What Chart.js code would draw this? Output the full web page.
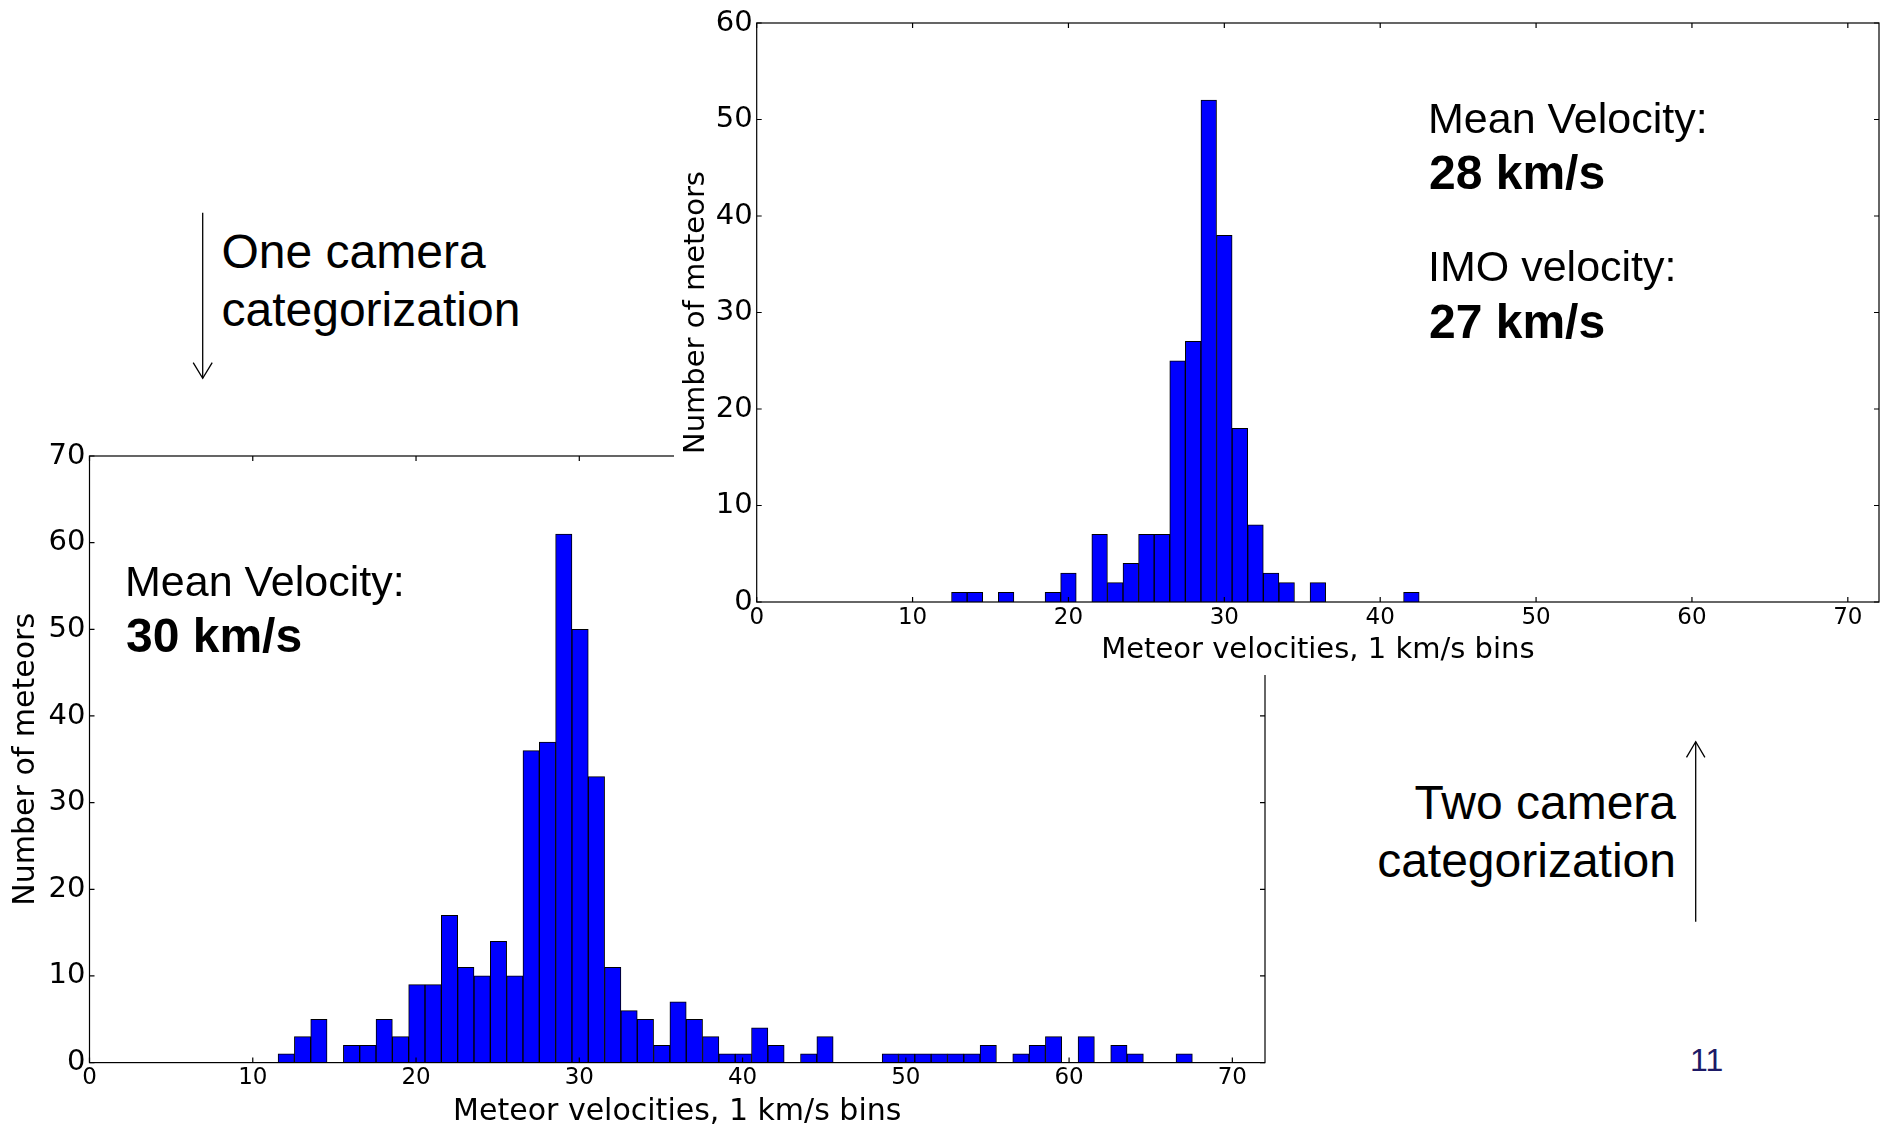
<!DOCTYPE html>
<html>
<head>
<meta charset="utf-8">
<title>Meteor velocity histograms</title>
<script src="https://cdn.jsdelivr.net/npm/chart.js@4.4.1/dist/chart.umd.min.js"></script>
<style>
  html, body { margin: 0; padding: 0; background: #fff; }
  body { width: 1889px; height: 1128px; position: relative; overflow: hidden;
         font-family: "Liberation Sans", Arial, sans-serif; color: #000; }
  .panel { position: absolute; }
  #oneCamPanel { left: 0; top: 400px; width: 1300px; height: 730px; }
  #twoCamPanel { left: 674px; top: 0; width: 1215px; height: 675px; background: #fff; }
  .note { position: absolute; white-space: nowrap; line-height: 1; }
  .reg { font-size: 43px; }
  .big { font-size: 48px; font-weight: bold; }
  .cat { font-size: 48px; line-height: 58px; }
  #pageNo { font-size: 32px; color: #1d1a66; }
  svg.arrows { position: absolute; left: 0; top: 0; }
</style>
</head>
<body>

<div class="panel" id="oneCamPanel"><canvas id="oneCam" width="1300" height="730"></canvas></div>
<div class="panel" id="twoCamPanel"><canvas id="twoCam" width="1215" height="675"></canvas></div>

<div class="note reg" style="left:125px; top:559.6px;">Mean Velocity:</div>
<div class="note big" style="left:126px; top:612.4px;">30 km/s</div>

<div class="note reg" style="left:1428px; top:96.9px;">Mean Velocity:</div>
<div class="note big" style="left:1429px; top:149.4px;">28 km/s</div>
<div class="note reg" style="left:1428px; top:245.3px;">IMO velocity:</div>
<div class="note big" style="left:1429px; top:297.7px;">27 km/s</div>

<div class="note cat" style="left:221.5px; top:223px;">One camera<br>categorization</div>
<div class="note cat" style="right:213px; top:774px; text-align:right;">Two camera<br>categorization</div>

<div class="note" id="pageNo" style="left:1690px; top:1044px;">11</div>

<svg class="arrows" width="1889" height="1128">
  <g stroke="#000" stroke-width="1.3" fill="none">
    <line x1="202.7" y1="212.7" x2="202.7" y2="378.3"/>
    <polyline points="193.2,362.6 202.7,378.3 212.2,362.6"/>
    <line x1="1695.7" y1="921.7" x2="1695.7" y2="741.7"/>
    <polyline points="1686.5,757.4 1695.7,741.7 1704.9,757.4"/>
  </g>
</svg>

<script>
// Velocity axis ticks (km/s) shared by both histograms
const velocityTicks = [0, 10, 20, 30, 40, 50, 60, 70];

// One camera categorization: 1 km/s bins, centre of each bin (km/s)
const oneCamBinCenters = [
  12.05, 13.05, 14.05, 15.05, 16.05, 17.05, 18.05, 19.05, 20.05, 21.05,
  22.05, 23.05, 24.05, 25.05, 26.05, 27.05, 28.05, 29.05, 30.05, 31.05,
  32.05, 33.05, 34.05, 35.05, 36.05, 37.05, 38.05, 39.05, 40.05, 41.05,
  42.05, 43.05, 44.05, 45.05, 46.05, 47.05, 48.05, 49.05, 50.05, 51.05,
  52.05, 53.05, 54.05, 55.05, 56.05, 57.05, 58.05, 59.05, 60.05, 61.05,
  62.05, 63.05, 64.05, 65.05, 66.05, 67.05
];
// Number of meteors in each bin
const oneCamCounts = [
  1, 3, 5, 0, 2, 2, 5, 3, 9, 9,
  17, 11, 10, 14, 10, 36, 37, 61, 50, 33,
  11, 6, 5, 2, 7, 5, 3, 1, 1, 4,
  2, 0, 1, 3, 0, 0, 0, 1, 1, 1,
  1, 1, 1, 2, 0, 1, 2, 3, 0, 3,
  0, 2, 1, 0, 0, 1
];

// Two camera categorization: 1 km/s bins, centre of each bin (km/s)
const twoCamBinCenters = [
  13, 14, 15, 16, 17, 18, 19, 20, 21, 22,
  23, 24, 25, 26, 27, 28, 29, 30, 31, 32,
  33, 34, 35, 36, 37, 38, 39, 40, 41, 42
];
const twoCamCounts = [
  1, 1, 0, 1, 0, 0, 1, 3, 0, 7,
  2, 4, 7, 7, 25, 27, 52, 38, 18, 8,
  3, 2, 0, 2, 0, 0, 0, 0, 0, 1
];

const oneCamCountTicks = [0, 10, 20, 30, 40, 50, 60, 70];
const twoCamCountTicks = [0, 10, 20, 30, 40, 50, 60];

const xTitle = 'Meteor velocities, 1 km/s bins';
const yTitle = 'Number of meteors';

// Closed box around the plot with short inward tick marks on all four sides
const boxedAxes = {
  id: 'boxedAxes',
  afterDatasetsDraw(chart) {
    const { ctx, chartArea: a, scales: { x, y } } = chart;
    const len = 5;
    ctx.save();
    ctx.strokeStyle = '#000';
    ctx.lineWidth = 1.2;
    ctx.strokeRect(a.left, a.top, a.right - a.left, a.bottom - a.top);
    ctx.beginPath();
    x.ticks.forEach(t => {
      const px = x.getPixelForValue(t.value);
      ctx.moveTo(px, a.bottom); ctx.lineTo(px, a.bottom - len);
      ctx.moveTo(px, a.top);    ctx.lineTo(px, a.top + len);
    });
    y.ticks.forEach(t => {
      const py = y.getPixelForValue(t.value);
      ctx.moveTo(a.left, py);  ctx.lineTo(a.left + len, py);
      ctx.moveTo(a.right, py); ctx.lineTo(a.right - len, py);
    });
    ctx.stroke();
    ctx.restore();
  }
};

function histogram(canvasId, centers, counts, yTicks, look) {
  const font = size => ({ family: '"DejaVu Sans", sans-serif', size });
  return new Chart(document.getElementById(canvasId), {
    type: 'bar',
    data: {
      datasets: [{
        data: centers.map((c, i) => ({ x: c, y: counts[i] })),
        backgroundColor: '#0000ff',
        borderColor: '#000000',
        borderWidth: 1,
        borderSkipped: 'start',
        barPercentage: 1,
        categoryPercentage: 1
      }]
    },
    options: {
      responsive: false,
      animation: false,
      layout: { padding: look.padding },
      plugins: { legend: { display: false }, tooltip: { enabled: false } },
      scales: {
        x: {
          type: 'linear',
          min: 0,
          max: 72,
          offset: false,
          grid: { display: false, drawTicks: false, offset: false },
          border: { display: false },
          afterBuildTicks: s => { s.ticks = velocityTicks.map(v => ({ value: v })); },
          ticks: {
            autoSkip: false, maxRotation: 0, minRotation: 0,
            padding: look.xTickPad, color: '#000', font: font(look.xTickSize),
            callback: v => String(v)
          },
          title: {
            display: true, text: xTitle, color: '#000', font: font(look.xTitleSize),
            padding: { top: 0, bottom: look.xTitlePad }
          },
          afterFit: s => { s.height = look.xHeight; }
        },
        y: {
          min: 0,
          max: yTicks[yTicks.length - 1],
          grid: { display: false, drawTicks: false },
          border: { display: false },
          afterBuildTicks: s => { s.ticks = yTicks.map(v => ({ value: v })); },
          ticks: {
            padding: look.yTickPad, color: '#000', font: font(look.yTickSize),
            callback: v => String(v)
          },
          title: {
            display: true, text: yTitle, color: '#000', font: font(look.yTitleSize),
            padding: { top: look.yTitlePad, bottom: 0 }
          },
          afterFit: s => { s.width = look.yWidth; }
        }
      }
    },
    plugins: [boxedAxes]
  });
}

histogram('oneCam', oneCamBinCenters, oneCamCounts, oneCamCountTicks, {
  padding: { left: 0, top: 56, right: 35, bottom: 0 },
  xHeight: 67.4, yWidth: 89.5,
  xTickSize: 23, yTickSize: 29, xTitleSize: 30, yTitleSize: 30,
  xTickPad: 1.2, yTickPad: 4, xTitlePad: 0, yTitlePad: 8
});

histogram('twoCam', twoCamBinCenters, twoCamCounts, twoCamCountTicks, {
  padding: { left: 0, top: 23, right: 10, bottom: 0 },
  xHeight: 73, yWidth: 82.7,
  xTickSize: 23, yTickSize: 29, xTitleSize: 29, yTitleSize: 29,
  xTickPad: 2.4, yTickPad: 4, xTitlePad: 7.6, yTitlePad: 4.6
});
</script>
</body>
</html>
